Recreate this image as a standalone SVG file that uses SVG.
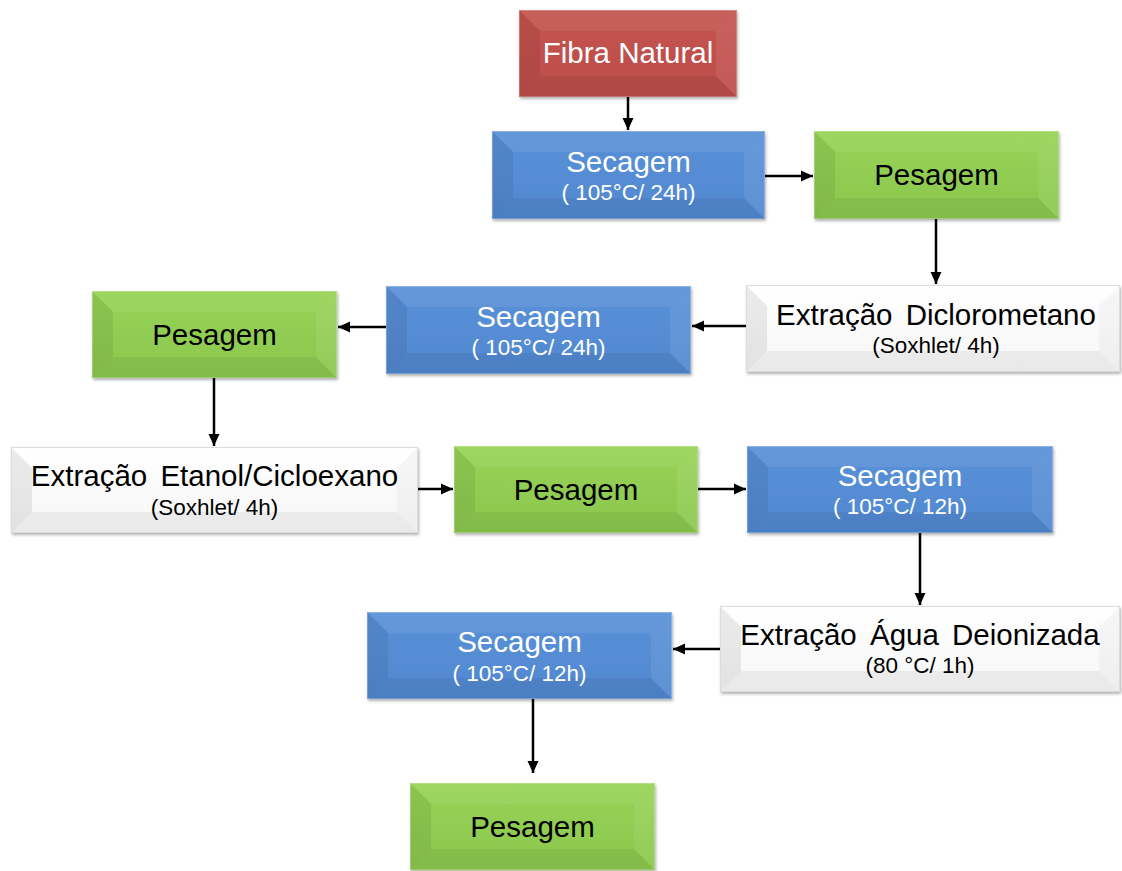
<svg xmlns="http://www.w3.org/2000/svg" width="1122" height="871" viewBox="0 0 1122 871">
  <defs>
    <linearGradient id="gRed" x1="0" y1="0" x2="0" y2="1">
      <stop offset="0" stop-color="#c4534f"/>
      <stop offset="1" stop-color="#bd4e4a"/>
    </linearGradient>
    <linearGradient id="gBlue" x1="0" y1="0" x2="0" y2="1">
      <stop offset="0" stop-color="#5a91d8"/>
      <stop offset="1" stop-color="#5088d0"/>
    </linearGradient>
    <linearGradient id="gGreen" x1="0" y1="0" x2="0" y2="1">
      <stop offset="0" stop-color="#97d356"/>
      <stop offset="1" stop-color="#8bc74e"/>
    </linearGradient>
    <linearGradient id="gWhite" x1="0" y1="0" x2="0" y2="1">
      <stop offset="0" stop-color="#ffffff"/>
      <stop offset="1" stop-color="#f6f6f6"/>
    </linearGradient>
    <filter id="shadow" x="-5%" y="-10%" width="110%" height="125%">
      <feDropShadow dx="1" dy="2" stdDeviation="1.5" flood-color="#000" flood-opacity="0.3"/>
    </filter>
    <marker id="arrow" markerUnits="userSpaceOnUse" markerWidth="14" markerHeight="14" viewBox="0 0 14 14" refX="12" refY="7" orient="auto">
      <path d="M0,1.5 L12,7 L0,12.5 Z" fill="#000"/>
    </marker>
  </defs>
  <style>
    .main { font-family: "Liberation Sans", Arial, sans-serif; font-size: 29.5px; text-anchor: middle; }
    .sub { font-family: "Liberation Sans", Arial, sans-serif; font-size: 22.5px; text-anchor: middle; }
    .light { fill: #ffffff; }
    .dark { fill: #000000; }
    .bt { fill: #ffffff; fill-opacity: 0.07; }
    .bl { fill: #000000; fill-opacity: 0.07; }
    .br { fill: #ffffff; fill-opacity: 0.08; }
    .bb { fill: #000000; fill-opacity: 0.06; }
    .wl { fill: #000000; fill-opacity: 0.08; }
    .wb { fill: #000000; fill-opacity: 0.05; }
    .wr { fill: #000000; fill-opacity: 0.03; }
    .edge { fill: none; stroke: #ffffff; stroke-opacity: 0.25; stroke-width: 1; }
    .wedge { fill: none; stroke: #dcdcdc; stroke-width: 1; }
    .conn { stroke: #000; stroke-width: 2.5; fill: none; marker-end: url(#arrow); }
  </style>

  <!-- connectors -->
  <g id="connectors">
    <line class="conn" x1="628" y1="97" x2="628" y2="130"/>
    <line class="conn" x1="765" y1="176" x2="813" y2="176"/>
    <line class="conn" x1="936" y1="219" x2="936" y2="284"/>
    <line class="conn" x1="746" y1="326" x2="692" y2="326"/>
    <line class="conn" x1="386" y1="327" x2="338" y2="327"/>
    <line class="conn" x1="214" y1="378" x2="214" y2="446"/>
    <line class="conn" x1="418" y1="489" x2="453" y2="489"/>
    <line class="conn" x1="698" y1="489" x2="746" y2="489"/>
    <line class="conn" x1="920" y1="533" x2="920" y2="605"/>
    <line class="conn" x1="720" y1="649" x2="673" y2="649"/>
    <line class="conn" x1="533" y1="699" x2="533" y2="773"/>
  </g>

  <!-- Fibra Natural -->
  <g id="fibra-natural" transform="translate(519,10)">
    <g filter="url(#shadow)"><rect width="218" height="87" fill="url(#gRed)"/></g>
    <polygon class="bt" points="0,0 218,0 197,21 21,21"/>
    <polygon class="bl" points="0,0 21,21 21,66 0,87"/>
    <polygon class="br" points="218,0 218,87 197,66 197,21"/>
    <polygon class="bb" points="0,87 218,87 197,66 21,66"/>
    <rect class="edge" x="0.5" y="0.5" width="217" height="86"/>
    <text class="main light" x="109" y="53">Fibra Natural</text>
  </g>

  <!-- Secagem 1 -->
  <g id="secagem-1" transform="translate(492,131)">
    <g filter="url(#shadow)"><rect width="273" height="88" fill="url(#gBlue)"/></g>
    <polygon class="bt" points="0,0 273,0 252,21 21,21"/>
    <polygon class="bl" points="0,0 21,21 21,67 0,88"/>
    <polygon class="br" points="273,0 273,88 252,67 252,21"/>
    <polygon class="bb" points="0,88 273,88 252,67 21,67"/>
    <rect class="edge" x="0.5" y="0.5" width="272" height="87"/>
    <text class="main light" x="136.5" y="41">Secagem</text>
    <text class="sub light" x="136.5" y="69">( 105°C/ 24h)</text>
  </g>

  <!-- Pesagem 1 -->
  <g id="pesagem-1" transform="translate(814,131)">
    <g filter="url(#shadow)"><rect width="245" height="88" fill="url(#gGreen)"/></g>
    <polygon class="bt" points="0,0 245,0 224,21 21,21"/>
    <polygon class="bl" points="0,0 21,21 21,67 0,88"/>
    <polygon class="br" points="245,0 245,88 224,67 224,21"/>
    <polygon class="bb" points="0,88 245,88 224,67 21,67"/>
    <rect class="edge" x="0.5" y="0.5" width="244" height="87"/>
    <text class="main dark" x="122.5" y="54">Pesagem</text>
  </g>

  <!-- Extração Diclorometano -->
  <g id="extracao-diclorometano" transform="translate(746,285)">
    <g filter="url(#shadow)"><rect width="374" height="87" fill="url(#gWhite)"/></g>
    <polygon class="wl" points="0,0 21,21 21,66 0,87"/>
    <polygon class="wr" points="374,0 374,87 353,66 353,21"/>
    <polygon class="wb" points="0,87 374,87 353,66 21,66"/>
    <rect class="wedge" x="0.5" y="0.5" width="373" height="86"/>
    <text class="main dark" x="190" y="40" word-spacing="5">Extração Diclorometano</text>
    <text class="sub dark" x="190" y="68">(Soxhlet/ 4h)</text>
  </g>

  <!-- Secagem 2 -->
  <g id="secagem-2" transform="translate(386,286)">
    <g filter="url(#shadow)"><rect width="305" height="88" fill="url(#gBlue)"/></g>
    <polygon class="bt" points="0,0 305,0 284,21 21,21"/>
    <polygon class="bl" points="0,0 21,21 21,67 0,88"/>
    <polygon class="br" points="305,0 305,88 284,67 284,21"/>
    <polygon class="bb" points="0,88 305,88 284,67 21,67"/>
    <rect class="edge" x="0.5" y="0.5" width="304" height="87"/>
    <text class="main light" x="152.5" y="41">Secagem</text>
    <text class="sub light" x="152.5" y="69">( 105°C/ 24h)</text>
  </g>

  <!-- Pesagem 2 -->
  <g id="pesagem-2" transform="translate(92,291)">
    <g filter="url(#shadow)"><rect width="245" height="87" fill="url(#gGreen)"/></g>
    <polygon class="bt" points="0,0 245,0 224,21 21,21"/>
    <polygon class="bl" points="0,0 21,21 21,66 0,87"/>
    <polygon class="br" points="245,0 245,87 224,66 224,21"/>
    <polygon class="bb" points="0,87 245,87 224,66 21,66"/>
    <rect class="edge" x="0.5" y="0.5" width="244" height="86"/>
    <text class="main dark" x="122.5" y="54">Pesagem</text>
  </g>

  <!-- Extração Etanol/Cicloexano -->
  <g id="extracao-etanol-cicloexano" transform="translate(11,447)">
    <g filter="url(#shadow)"><rect width="407" height="86" fill="url(#gWhite)"/></g>
    <polygon class="wl" points="0,0 21,21 21,65 0,86"/>
    <polygon class="wr" points="407,0 407,86 386,65 386,21"/>
    <polygon class="wb" points="0,86 407,86 386,65 21,65"/>
    <rect class="wedge" x="0.5" y="0.5" width="406" height="85"/>
    <text class="main dark" x="203.5" y="39" word-spacing="5">Extração Etanol/Cicloexano</text>
    <text class="sub dark" x="203.5" y="68">(Soxhlet/ 4h)</text>
  </g>

  <!-- Pesagem 3 -->
  <g id="pesagem-3" transform="translate(454,446)">
    <g filter="url(#shadow)"><rect width="244" height="87" fill="url(#gGreen)"/></g>
    <polygon class="bt" points="0,0 244,0 223,21 21,21"/>
    <polygon class="bl" points="0,0 21,21 21,66 0,87"/>
    <polygon class="br" points="244,0 244,87 223,66 223,21"/>
    <polygon class="bb" points="0,87 244,87 223,66 21,66"/>
    <rect class="edge" x="0.5" y="0.5" width="243" height="86"/>
    <text class="main dark" x="122" y="54">Pesagem</text>
  </g>

  <!-- Secagem 3 -->
  <g id="secagem-3" transform="translate(747,446)">
    <g filter="url(#shadow)"><rect width="306" height="87" fill="url(#gBlue)"/></g>
    <polygon class="bt" points="0,0 306,0 285,21 21,21"/>
    <polygon class="bl" points="0,0 21,21 21,66 0,87"/>
    <polygon class="br" points="306,0 306,87 285,66 285,21"/>
    <polygon class="bb" points="0,87 306,87 285,66 21,66"/>
    <rect class="edge" x="0.5" y="0.5" width="305" height="86"/>
    <text class="main light" x="153" y="40">Secagem</text>
    <text class="sub light" x="153" y="68">( 105°C/ 12h)</text>
  </g>

  <!-- Extração Água Deionizada -->
  <g id="extracao-agua-deionizada" transform="translate(720,606)">
    <g filter="url(#shadow)"><rect width="400" height="86" fill="url(#gWhite)"/></g>
    <polygon class="wl" points="0,0 21,21 21,65 0,86"/>
    <polygon class="wr" points="400,0 400,86 379,65 379,21"/>
    <polygon class="wb" points="0,86 400,86 379,65 21,65"/>
    <rect class="wedge" x="0.5" y="0.5" width="399" height="85"/>
    <text class="main dark" x="200" y="39" word-spacing="5">Extração Água Deionizada</text>
    <text class="sub dark" x="200" y="67">(80 °C/ 1h)</text>
  </g>

  <!-- Secagem 4 -->
  <g id="secagem-4" transform="translate(367,612)">
    <g filter="url(#shadow)"><rect width="305" height="87" fill="url(#gBlue)"/></g>
    <polygon class="bt" points="0,0 305,0 284,21 21,21"/>
    <polygon class="bl" points="0,0 21,21 21,66 0,87"/>
    <polygon class="br" points="305,0 305,87 284,66 284,21"/>
    <polygon class="bb" points="0,87 305,87 284,66 21,66"/>
    <rect class="edge" x="0.5" y="0.5" width="304" height="86"/>
    <text class="main light" x="152.5" y="40">Secagem</text>
    <text class="sub light" x="152.5" y="69">( 105°C/ 12h)</text>
  </g>

  <!-- Pesagem 4 -->
  <g id="pesagem-4" transform="translate(410,783)">
    <g filter="url(#shadow)"><rect width="245" height="87" fill="url(#gGreen)"/></g>
    <polygon class="bt" points="0,0 245,0 224,21 21,21"/>
    <polygon class="bl" points="0,0 21,21 21,66 0,87"/>
    <polygon class="br" points="245,0 245,87 224,66 224,21"/>
    <polygon class="bb" points="0,87 245,87 224,66 21,66"/>
    <rect class="edge" x="0.5" y="0.5" width="244" height="86"/>
    <text class="main dark" x="122.5" y="54">Pesagem</text>
  </g>
</svg>
